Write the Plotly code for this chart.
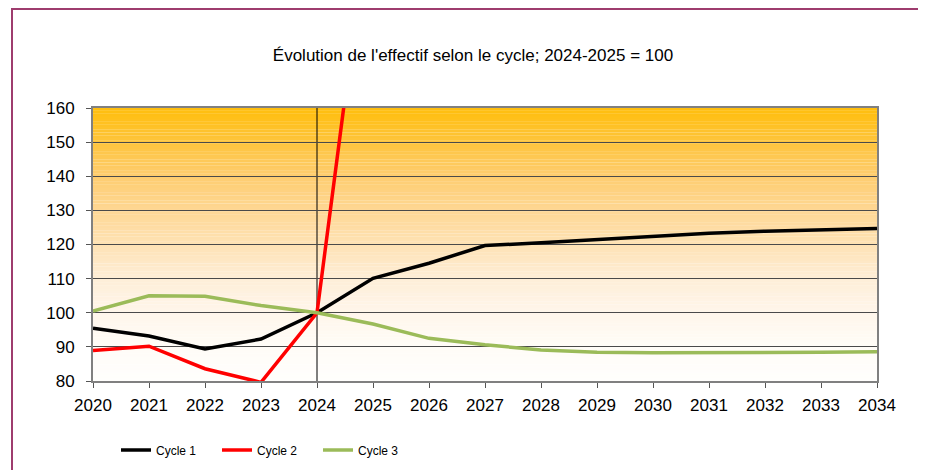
import plotly.graph_objects as go

years = list(range(2020, 2035))
cycle1 = [95.5, 93.2, 89.4, 92.3, 100.0, 110.1, 114.5, 119.7, 120.5, 121.5, 122.5, 123.3, 123.9, 124.4, 124.7]
cycle2 = [88.9, 90.2, 83.6, 79.6, 100.0, 226.0, None, None, None, None, None, None, None, None, None]
cycle3 = [100.5, 105.0, 104.8, 102.1, 100.0, 96.7, 92.5, 90.6, 89.1, 88.4, 88.3, 88.3, 88.4, 88.4, 88.6]
y_ticks = [80, 90, 100, 110, 120, 130, 140, 150, 160]
title = "Évolution de l'effectif selon le cycle; 2024-2025 = 100"

fig = go.Figure()
fig.add_trace(go.Scatter(x=years, y=cycle1, mode="lines", name="Cycle 1",
                         line=dict(color="#000000", width=3.5)))
fig.add_trace(go.Scatter(x=years, y=cycle2, mode="lines", name="Cycle 2",
                         line=dict(color="#FF0000", width=3.5)))
fig.add_trace(go.Scatter(x=years, y=cycle3, mode="lines", name="Cycle 3",
                         line=dict(color="#9BBB59", width=3.5)))

# figure is placed at (8, 8) in the page
W, H = 918, 462
L, T = 85, 100
PW, PH = 784, 273

# gradient background via thin bands (0 = bottom, 1 = top)
stops = [(0.0, (255, 254, 252)), (0.125, (255, 252, 247)), (0.25, (255, 246, 235)),
         (0.375, (254, 238, 215)), (0.5, (254, 226, 180)), (0.625, (254, 215, 148)),
         (0.75, (254, 205, 112)), (0.875, (254, 196, 60)), (1.0, (255, 190, 12))]


def col_at(t):
    for (ta, ca), (tb, cb) in zip(stops[:-1], stops[1:]):
        if ta <= t <= tb:
            u = (t - ta) / (tb - ta)
            return tuple(round(a + (b - a) * u) for a, b in zip(ca, cb))
    return stops[-1][1]


shapes = []
n = 100
ymin, ymax = 80, 160
for i in range(n):
    t0 = i / n
    t1 = (i + 1) / n
    r, g, b = col_at((t0 + t1) / 2)
    shapes.append(dict(type="rect", xref="paper", yref="y", x0=0, x1=1,
                       y0=ymin + (ymax - ymin) * t0, y1=ymin + (ymax - ymin) * t1 + 0.05,
                       fillcolor=f"rgb({r},{g},{b})", line=dict(width=0), layer="below"))
# vertical line at 2024
shapes.append(dict(type="line", xref="x", yref="paper", x0=2024, x1=2024, y0=0, y1=1,
                   line=dict(color="#000000", width=1), layer="below"))
# outer border (window px: left 12, right 921, top 10)
bx0 = (12 - 8 - L) / PW
bx1 = (921 - 8 - L) / PW
by1 = (T + PH - (9 - 8)) / PH
by0 = (T + PH - (480 - 8)) / PH
shapes.append(dict(type="rect", xref="paper", yref="paper", x0=bx0, x1=bx1,
                   y0=by0, y1=by1, line=dict(color="#9E3C6E", width=2),
                   fillcolor="rgba(0,0,0,0)"))

fig.update_layout(
    width=W, height=H,
    margin=dict(l=L, r=W - L - PW, t=T, b=H - T - PH),
    paper_bgcolor="white", plot_bgcolor="rgba(0,0,0,0)",
    font=dict(family="Liberation Sans, Arial, sans-serif", color="#000000", size=17),
    title=dict(text=title, x=(473 - 8) / W, xanchor="center", y=1 - (55 - 8) / H,
               yanchor="middle", font=dict(size=17)),
    shapes=shapes,
    showlegend=True,
    legend=dict(orientation="h", xref="container", yref="container",
                x=(116 - 8) / W, y=1 - (450 - 8) / H, xanchor="left",
                yanchor="middle", font=dict(size=12), entrywidth=56,
                bgcolor="rgba(0,0,0,0)"),
    xaxis=dict(range=[2020, 2034], tickmode="array", tickvals=years,
               ticktext=[str(y) for y in years], showgrid=False,
               ticks="outside", ticklen=5, tickcolor="#555555",
               ticklabelstandoff=3,
               showline=True, linecolor="#808080", linewidth=2, mirror=True,
               zeroline=False, fixedrange=True),
    yaxis=dict(range=[80, 160], tickmode="array", tickvals=y_ticks,
               showgrid=True, gridcolor="#4a4a4a", gridwidth=1,
               ticks="outside", ticklen=5, tickcolor="#555555",
               ticklabelstandoff=8,
               showline=True, linecolor="#808080", linewidth=2, mirror=True,
               zeroline=False, fixedrange=True),
)

fig.write_html("out.html")
